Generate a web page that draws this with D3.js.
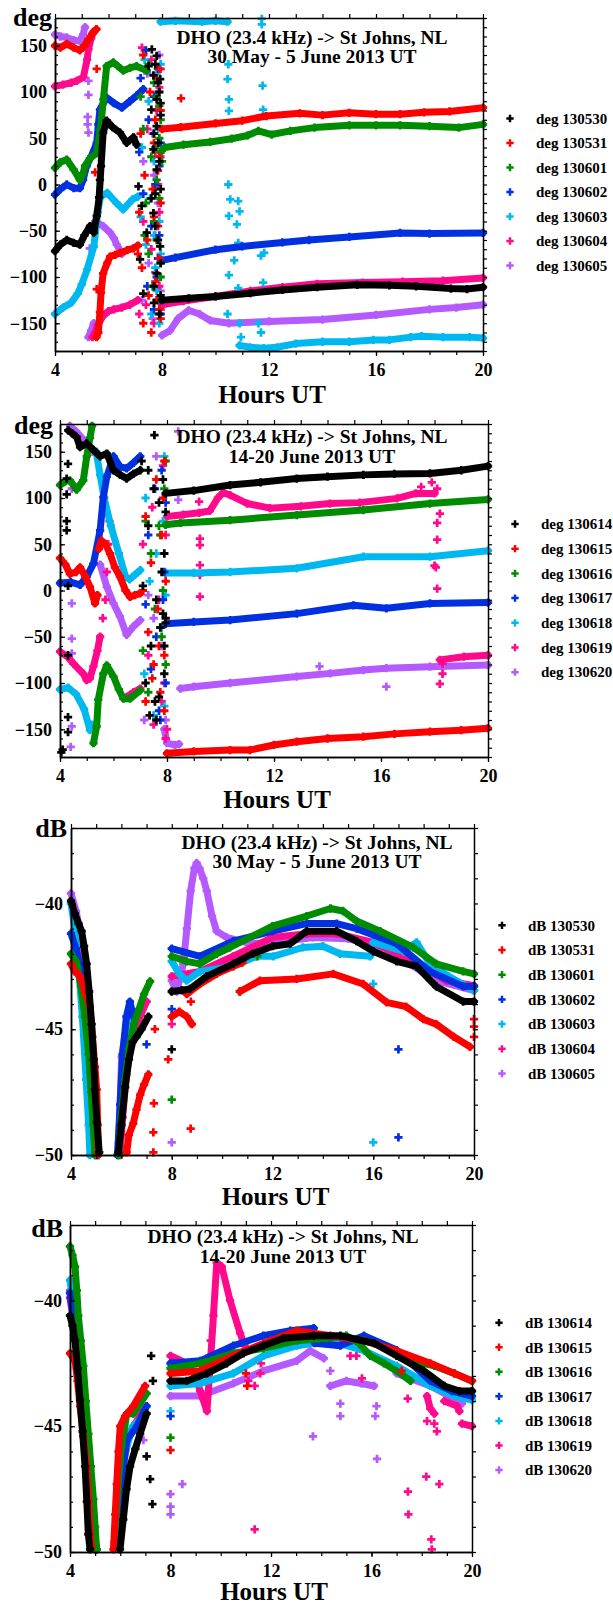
<!DOCTYPE html>
<html>
<head>
<meta charset="utf-8">
<script src="https://cdn.jsdelivr.net/npm/d3@7"></script>
<style>
  body { margin: 0; background: #fff; }
  svg { display: block; }
  text { font-family: "Liberation Serif", "Times New Roman", serif; font-weight: bold; }
</style>
</head>
<body>
<div id="chart"></div>
<script>
// ---- series colours, in legend order ----
const colors = ['#000000', '#ff0000', '#008c00', '#0030e0', '#00b8f0', '#ff0a8c', '#b45aff'];
const days1 = ['130530', '130531', '130601', '130602', '130603', '130604', '130605'];
const days2 = ['130614', '130615', '130616', '130617', '130618', '130619', '130620'];
const xTicks = [4, 8, 12, 16, 20];
const degTicks = [-150, -100, -50, 0, 50, 100, 150];
const dbTicks = [-50, -45, -40];

// ---- panel 1: phase (deg), 30 May - 5 June ----
// each series: lines = continuous runs [hour, value]; dots = isolated points
const p1_130530_lines = [
  [[4.0,-72],[4.2,-65],[4.44,-60],[4.7,-63],[4.93,-65],[5.1,-55],[5.31,-45],[5.45,-52],[5.56,-34],[5.65,-14],[5.72,20],[5.8,56],[5.93,69],[6.15,62],[6.43,56],[6.68,45],[6.93,51],[7.05,43]],
  [[8.0,-125],[9,-123],[10,-121],[11.3,-117.5],[12.5,-114],[13.8,-111],[15.3,-108.5],[16.5,-109],[17.5,-110],[18.8,-112.5],[19.4,-113],[20,-111]]
];
const p1_130530_dots = [[7.62,146],[7.8,139],[7.68,118],[7.93,114],[7.8,92],[7.6,81],[7.8,63],[7.86,45],[7.68,38],[7.8,16],[7.12,-2],[7.24,-23],[7.68,-31],[7.43,-52],[7.93,-67],[7.18,-81],[7.8,-96],[7.3,-118],[7.7,-128],[7.9,-140],[7.5,128],[7.95,75],[7.9,100],[7.75,-10],[5.68,5],
  [7.75,130],[7.85,110],[7.95,88],[7.7,55],[7.9,25],[7.95,-5],[7.75,-45],[7.85,-60],[7.95,-85],[7.7,-110],[7.95,-120],[7.6,-15]];
const p1_130531_lines = [
  [[4.0,150],[4.2,148],[4.44,152],[4.7,148],[4.93,145],[5.1,150],[5.25,157],[5.4,163],[5.55,168]],
  [[5.55,-165],[5.62,-160],[5.68,-138],[5.72,-117],[5.8,-96],[5.95,-85],[6.06,-78],[6.25,-76],[6.43,-74],[6.7,-71],[6.93,-69],[7.1,-66]],
  [[8.0,60],[8.7,62],[10,66],[11,69],[11.9,74],[13.15,77],[14,75],[15,77.5],[16,76],[16.9,76],[17.8,78],[18.75,79],[20,83]]
];
const p1_130531_dots = [[5.56,125],[5.5,13],[5.56,-113],[8.71,93],[7.3,140],[7.9,125],[7.55,100],[7.75,70],[7.2,55],[7.9,30],[7.35,10],[7.65,-5],[7.15,-30],[7.85,-45],[7.45,-60],[7.25,-90],[7.75,-105],[7.5,-120],[7.9,-135],[7.3,-150],[7.6,-160],[7.1,-75],
  [7.8,115],[7.95,80],[7.7,45],[7.85,15],[7.95,-20],[7.7,-35],[7.9,-80],[7.8,-125],[7.95,-145]];
const p1_130601_lines = [
  [[4.0,18],[4.2,24],[4.44,27],[4.7,16],[4.93,5],[5.05,12],[5.12,20],[5.3,28],[5.56,34],[5.7,60],[5.81,92],[5.93,128],[6.18,132],[6.35,128],[6.55,123],[6.8,126],[7.05,128],[7.43,123]],
  [[7.95,35],[8.1,40],[8.8,43],[9.8,46],[10.6,49.5],[11.2,53],[11.6,58],[12.1,54],[12.8,58],[13.7,61.5],[15,64],[16,64],[16.9,64],[18,63],[19.1,61.5],[20,65]]
];
const p1_130601_dots = [[7.5,130],[7.7,110],[7.9,85],[7.3,60],[7.6,30],[7.8,5],[7.4,-20],[7.7,-40],[7.5,-75],[7.95,-100],[7.85,-125],[7.2,95],[7.35,-55],[7.9,50],[8.0,25],
  [7.8,95],[7.95,70],[7.75,40],[7.9,-15],[7.8,-60],[7.95,-85],[7.65,-110]];
const p1_130602_lines = [
  [[4.0,-11],[4.2,-5],[4.44,0],[4.7,-4],[4.93,-4],[5.05,5],[5.18,20],[5.35,30],[5.56,45],[5.62,65],[5.68,81],[5.93,94],[6.2,88],[6.5,83],[6.8,90],[7.05,96],[7.3,103]],
  [[8.0,-82],[8.5,-79],[10,-70.5],[11,-67],[12.5,-62.6],[13.5,-60],[15,-56.7],[16.9,-52.4],[18,-53],[20,-52.4]]
];
const p1_130602_dots = [[7.4,145],[7.2,115],[7.7,95],[7.5,70],[7.9,20],[7.3,-10],[7.6,-45],[7.85,-80],[7.45,-110],[7.7,-135],[7.95,-125],[7.15,35],
  [7.85,125],[7.95,45],[7.75,0],[7.9,-55],[7.8,-100],[7.95,-140]];
const p1_130603_lines = [
  [[4.0,-140],[4.3,-133],[4.6,-128],[4.85,-118],[5.0,-108],[5.2,-92],[5.45,-67],[5.6,-30],[5.7,-13],[5.95,-9],[6.3,-20],[6.55,-27],[6.9,-16],[7.1,-13]],
  [[7.95,176],[8.5,177],[9.5,176],[10.0,177],[10.45,176]],
  [[10.9,-174],[11.3,-176],[11.8,-177],[12.3,-176],[13,-172],[14,-170],[15,-170],[15.9,-168],[16.5,-168],[17.3,-165],[17.7,-164],[18.5,-165],[19.5,-165],[20,-166]]
];
const p1_130603_dots = [[10.48,130],[10.45,114],[10.5,92],[10.5,79.5],[10.48,0],[10.55,-16],[10.85,-18],[10.9,-29],[10.5,-34],[10.8,-43],[10.85,-63],[10.5,-98],[10.7,-82],[10.85,-112],[11.73,179],[11.73,173],[11.76,107],[11.78,81],[11.82,-74],[11.7,-77],[11.78,-106],[10.45,-140],[10.9,-150],[11.6,-150],[11.7,-160],[10.95,-165],[7.35,135],[7.8,120],[7.5,90],[7.25,40],[7.7,25],[7.55,-15],[7.9,-40],[7.4,-65],[7.75,-90],[7.6,-140],[7.9,-150],[7.2,-35],
  [7.95,130],[7.85,60],[7.7,-55],[7.95,-75],[7.8,-115]];
const p1_130604_lines = [
  [[4.0,106],[4.3,108],[4.6,110],[4.81,112],[5.06,116],[5.2,135],[5.25,146],[5.35,158],[5.43,165]],
  [[5.4,-165],[5.5,-160],[5.6,-152],[5.8,-142],[6.0,-137],[6.2,-135],[6.5,-133],[6.8,-130],[7.1,-125]],
  [[8.0,-130],[8.8,-126],[10,-121],[11.3,-115],[12.5,-111],[13.8,-107.4],[15.5,-106],[17,-105],[18.5,-104],[20,-101]]
];
const p1_130604_dots = [[7.25,148],[7.6,135],[7.9,105],[7.45,60],[7.75,35],[7.3,-40],[7.6,-70],[7.9,-110],[7.4,-130],[7.7,-150],[7.15,-140],[7.85,0],
  [7.95,125],[7.8,80],[7.9,-30],[7.75,-95],[7.95,-135]];
const p1_130605_lines = [
  [[4.0,162],[4.2,160],[4.44,159],[4.7,156],[4.93,155],[5.05,162],[5.12,170]],
  [[5.25,-165],[5.35,-158],[5.45,-150]],
  [[5.5,-40],[5.8,-45],[6.06,-52],[6.2,-58],[6.31,-65],[6.5,-75]],
  [[8.0,-163],[8.3,-158],[8.6,-145],[9.0,-136],[9.4,-140],[9.8,-147],[10.5,-150],[12,-148],[14,-146],[16,-141],[18,-135],[19,-133],[20,-130]]
];
const p1_130605_dots = [[5.25,112],[5.25,97],[5.22,73],[5.22,65],[5.25,56],[5.3,-69],[7.45,120],[7.9,140],[7.65,55],[7.3,25],[7.85,-20],[7.5,-85],[7.95,-115],[7.65,-145],[7.25,-125],[7.7,10],
  [7.85,100],[7.95,30],[7.75,-55],[7.9,-100]];

// ---- panel 2: phase (deg), 14-20 June ----
const p2_130614_lines = [
  [[4.31,173],[4.45,170],[4.62,166],[4.75,155],[5.0,159],[5.25,152],[5.5,145],[5.75,148],[6.0,130],[6.25,125],[6.49,121],[6.74,126],[7.0,130]],
  [[7.95,105],[9,108],[10.36,114],[11.5,117],[12.85,121],[14,123],[15.34,125],[16.5,126],[17.83,126.6],[19,130],[20,134.5]]
];
const p2_130614_dots = [[4.3,137],[4.25,121],[4.25,104],[4.25,75],[4.25,65],[4.3,5],[4.3,-70],[4.3,-137],[4.3,-153],[4.05,-175],[4.1,-172],[7.53,168],[7.05,140],[7.3,130],[7.5,110],[7.7,95],[7.3,70],[7.9,40],[7.1,5],[7.6,-10],[7.85,-25],[7.95,-30],[7.4,-60],[7.2,-100],[7.55,-120],[7.35,-135],[7.6,-140],[7.9,-60],[7.8,20],
  [7.85,120],[7.95,85],[7.75,-40],[7.9,-90],[7.7,-115],[7.95,-35]];
const p2_130615_lines = [
  [[4.0,35],[4.2,28],[4.37,18],[4.6,20],[4.75,25],[4.95,15],[5.12,4],[5.31,-14],[5.4,-5]],
  [[5.45,45],[5.55,54],[5.7,50],[5.87,40],[6.05,25],[6.24,15],[6.45,0],[6.62,-7],[6.8,-5],[7.0,-3]],
  [[8.0,-176],[9,-174],[10.36,-172.5],[11.1,-172.5],[12.0,-167],[12.85,-163.5],[14,-160],[15.34,-158],[16.5,-155],[17.83,-152.6],[19,-151],[20,-149]]
];
const p2_130615_dots = [[7.9,140],[7.6,120],[7.2,80],[7.8,60],[7.4,30],[7.1,0],[7.65,-20],[7.3,-45],[7.9,-70],[7.5,-80],[7.2,-120],[7.75,-110],[7.45,-95],
  [7.85,100],[7.95,10],[7.7,-60],[7.9,-130]];
const p2_130616_lines = [
  [[4.0,114],[4.2,118],[4.37,119],[4.62,109],[4.87,119],[5.0,145],[5.12,165],[5.2,178]],
  [[5.25,-165],[5.37,-147],[5.43,-118],[5.62,-90],[5.75,-81],[6.0,-93],[6.2,-107],[6.37,-117],[6.62,-117],[7.0,-108]],
  [[7.95,71],[8.5,73],[10.36,76],[12.85,81.6],[15.34,87],[17.83,94],[20,98.5]]
];
const p2_130616_dots = [[7.95,140],[7.2,75],[7.7,70],[7.4,40],[7.85,0],[7.55,-20],[7.1,-65],[7.3,-110],[7.75,60],
  [7.9,110],[7.8,-50],[7.95,-80]];
const p2_130617_lines = [
  [[4.0,8],[4.4,9],[4.75,6],[5.0,15],[5.25,29],[5.5,65],[5.62,101],[5.75,123],[6.0,145],[6.24,134],[6.49,132],[6.75,138],[7.0,145]],
  [[7.95,-36],[9,-34],[10.36,-32],[12.85,-25],[14.97,-16],[16.2,-19.3],[17.83,-14],[20,-13]]
];
const p2_130617_dots = [[7.8,130],[7.55,110],[7.3,60],[7.9,20],[7.2,-15],[7.6,-50],[7.4,-85],[7.7,-130],[7.95,-100],
  [7.95,95],[7.85,-10],[7.75,-140]];
const p2_130618_lines = [
  [[4.0,-107],[4.3,-105],[4.6,-112],[4.9,-128],[5.12,-151],[5.2,-145]],
  [[5.35,150],[5.5,125],[5.65,100],[5.9,70],[6.2,40],[6.45,15],[6.6,12],[6.8,17],[7.0,22]],
  [[7.95,19],[9,19],[10.36,20],[12.85,24],[15.34,36.5],[17.83,36.5],[20,43]]
];
const p2_130618_dots = [[7.9,145],[7.2,100],[7.6,40],[7.35,10],[7.8,-40],[7.15,-90],[7.5,-135],[7.9,-125],
  [7.85,75],[7.95,-5]];
const p2_130619_lines = [
  [[4.0,-66],[4.3,-72],[4.5,-79],[4.87,-90],[5.0,-97],[5.12,-95],[5.25,-82],[5.4,-65],[5.5,-50]],
  [[6.5,-115],[6.75,-110],[7.0,-106]],
  [[8.0,80],[8.6,82],[9.2,84],[9.6,86],[9.9,100],[10.1,106],[10.36,103],[11.0,94],[11.85,89],[13,91],[14.09,94],[15.2,95],[16.6,99.6],[17.3,105],[18.0,105]],
  [[18.2,-75],[19.1,-71.6],[20,-70]]
];
const p2_130619_dots = [[5.6,-30],[5.7,-10],[5.75,20],[5.8,50],[5.85,75],[17.5,112],[17.9,117],[18.1,110],[18.2,83],[18.1,73],[18.1,55],[18.0,27],[18.05,25],[18.1,2],[18.3,-79],[18.3,-90],[18.2,-101],[9.2,96],[9.23,56],[9.23,49],[9.23,27.5],[9.23,16.7],[9.23,-6.7],[7.85,135],[7.45,90],[7.1,50],[7.7,-10],[7.3,-70],[7.9,-100],[7.5,-145],[7.95,-160],[8.0,-150],
  [7.95,60],[7.8,-120]];
const p2_130620_lines = [
  [[4.37,178],[4.6,172],[5.0,159],[5.2,150]],
  [[5.5,28],[5.75,4],[6.0,-14],[6.24,-28],[6.49,-48],[6.74,-39],[7.0,-32]],
  [[7.9,-150],[8.0,-165],[8.3,-167],[8.45,-166]],
  [[8.5,-106],[9,-104],[10.36,-100],[12.85,-93],[14.1,-89.6],[15.34,-86],[16.2,-84],[17.83,-82.4],[20,-80.6]]
];
const p2_130620_dots = [[4.44,110],[4.44,-14],[4.44,-52],[4.44,-68],[4.44,-147],[4.4,-169],[8.42,172],[8.42,98],[13.7,-82],[16.2,-104],[7.6,145],[7.3,-5],[7.8,-60],[7.15,-140],[7.5,-30],[7.95,-140]];

// ---- panel 3: amplitude (dB), 30 May - 5 June ----
const p3_130530_lines = [
  [[4.0,-39.9],[4.15,-40.4],[4.3,-40.8],[4.42,-41.1],[4.52,-41.7],[4.62,-42.4],[4.72,-43.5],[4.82,-44.8],[4.9,-46.2],[4.95,-47.4],[5.03,-48.7],[5.12,-49.9]],
  [[5.88,-49.9],[6.0,-48.8],[6.15,-47.3],[6.3,-46.2],[6.45,-45.5],[6.6,-45.3],[6.8,-45],[7.07,-44.5]],
  [[8.0,-43.5],[8.4,-43.45],[8.72,-43.4],[9.39,-42.9],[10.44,-42.4],[11.2,-42],[12,-41.7],[12.7,-41.6],[13.36,-41.1],[14.55,-41.1],[15.34,-41.5],[16,-41.9],[16.93,-42.3],[17.72,-42.5],[18.5,-43.3],[19.57,-43.9],[20,-43.9]]
];
const p3_130530_dots = [[8.0,-45.8]];
const p3_130531_lines = [
  [[4.0,-42.4],[4.15,-42.7],[4.36,-42.9],[4.55,-43.5],[4.75,-44.1],[4.85,-45.3],[4.95,-46.5],[5.02,-47.4],[5.06,-48.8],[5.08,-50]],
  [[6.21,-49.9],[6.3,-49.2],[6.47,-48.75],[6.6,-48.2],[6.75,-47.6],[6.9,-47.2],[7.07,-46.8]],
  [[8.0,-44.5],[8.3,-44.3],[8.6,-44.5],[8.8,-44.8]],
  [[8.6,-43.6],[9.12,-43.2],[9.78,-42.8],[10.44,-42.5],[10.8,-42.35]],
  [[10.71,-43.5],[11.5,-43.07],[12.96,-43.0],[14.41,-42.8],[15.6,-43.2],[16.53,-43.93],[17.3,-44.1],[17.99,-44.6],[18.5,-44.8],[19.2,-45.3],[19.84,-45.7]]
];
const p3_130531_dots = [[7.33,-45],[7.86,-46.2],[8.76,-43.9],[7.29,-47.95],[7.27,-49.1],[7.27,-49.9],[8.75,-48.95],[20,-44.9],[20,-45.3],[20,-44.6]];
const p3_130601_lines = [
  [[4.0,-42.0],[4.2,-42.3],[4.4,-43.3],[4.55,-44.5],[4.7,-46],[4.8,-47.5],[4.88,-48.8],[4.95,-50]],
  [[5.9,-50],[6.0,-48.5],[6.15,-47],[6.3,-45.8],[6.5,-44.8],[6.7,-44.2],[6.9,-43.6],[7.14,-43.1]],
  [[8.0,-42.1],[8.59,-42.3],[9.12,-42.4],[9.78,-42],[10.31,-41.75],[12,-40.9],[13.36,-40.5],[14.3,-40.2],[14.8,-40.3],[15.34,-40.7],[16.27,-41.1],[17.59,-41.75],[18.5,-42.4],[19.57,-42.7],[20,-42.8]]
];
const p3_130601_dots = [[8.0,-47.8],[10.7,-43.5],[11.4,-42.1]];
const p3_130602_lines = [
  [[4.0,-41.2],[4.2,-41.8],[4.4,-42.6],[4.55,-43.8],[4.7,-45.5],[4.82,-47.3],[4.9,-48.8],[4.97,-50]],
  [[5.85,-50],[5.95,-48],[6.05,-46],[6.2,-44.5],[6.34,-43.9],[6.47,-44.5]],
  [[8.0,-41.8],[9.12,-42.1],[10.44,-41.5],[12,-41.1],[13.36,-40.8],[14.55,-40.8],[15.34,-41.0],[16.93,-41.6],[18.25,-42.7],[19.57,-43.3],[20,-43.3]]
];
const p3_130602_dots = [[7.0,-45.6],[8.0,-44.2],[17,-45.8],[17,-49.3]];
const p3_130603_lines = [
  [[4.0,-40.0],[4.15,-41],[4.3,-42.5],[4.45,-44.5],[4.6,-47],[4.7,-48.8],[4.75,-50]],
  [[5.85,-50],[5.95,-48.5],[6.1,-46.5],[6.3,-45],[6.47,-44.6]],
  [[8.0,-42.3],[8.3,-42.8],[8.59,-43.07],[9.12,-42.7],[10.44,-42.5],[11.37,-42.1],[12.03,-42.1],[13.2,-41.75],[14.0,-41.7],[14.68,-42.0],[15.87,-42.1]],
  [[16,-41.55],[17.2,-41.9],[17.72,-41.55],[18.25,-42.4],[19,-42.9],[20,-43.46]]
];
const p3_130603_dots = [[16,-43.2],[16,-49.5]];
const p3_130604_lines = [
  [[4.0,-40.0],[4.2,-40.6],[4.4,-41.5],[4.6,-43],[4.75,-45],[4.88,-47.5],[5.0,-49.5],[5.05,-50]],
  [[5.95,-50],[6.05,-48.5],[6.2,-46.8],[6.4,-45.5],[6.7,-44.6],[7.0,-43.9]],
  [[8.0,-42.9],[9.12,-42.7],[10.44,-42.1],[12,-41.35],[13.36,-41.2],[14.55,-41.2],[16,-41.55],[17.6,-42.3],[18.9,-43.07],[20,-43.27]]
];
const p3_130604_dots = [[8.0,-44.8]];
const p3_130605_lines = [
  [[4.0,-39.6],[4.2,-40.3],[4.4,-41.3],[4.6,-42.8],[4.75,-44.8],[4.9,-47.3],[5.0,-49],[5.08,-50]],
  [[5.9,-49.5],[6.01,-46.1],[6.21,-44.8],[6.4,-44.3]],
  [[8.0,-43.07],[8.2,-43.5],[8.46,-42.4],[8.6,-41],[8.75,-39.5],[8.9,-38.6],[8.99,-38.4],[9.1,-38.6],[9.25,-39],[9.39,-39.5],[9.6,-40.5],[9.78,-41.1],[10.18,-41.35],[11.1,-41.6],[12.5,-41.5],[13.6,-41.35],[15,-41.4],[16.5,-41.8],[18.5,-43.07],[20,-43.46]]
];
const p3_130605_dots = [[8.0,-49.5]];

// ---- panel 4: amplitude (dB), 14-20 June ----
const p4_130614_lines = [
  [[4.0,-40.6],[4.1,-41],[4.2,-41.6],[4.3,-42.7],[4.4,-43.96],[4.5,-45.2],[4.6,-46.6],[4.67,-48],[4.73,-49.3],[4.8,-49.9]],
  [[5.99,-49.9],[6.12,-48.7],[6.25,-47.5],[6.39,-46.6],[6.6,-45.9],[6.79,-45.3],[7.05,-44.5]],
  [[8.0,-43.2],[8.65,-43.2],[9.45,-42.9],[10.24,-42.5],[10.9,-42.1],[11.7,-41.8],[12.5,-41.5],[13.7,-41.4],[14.76,-41.4],[16.1,-41.7],[17.0,-42.2],[18.08,-42.8],[18.9,-43.4],[19.5,-43.6],[20,-43.6]]
];
const p4_130614_dots = [[7.05,-46.2],[7.19,-47.1],[7.28,-48.1],[7.23,-42.2],[7.3,-43.2]];
const p4_130615_lines = [
  [[4.0,-42.1],[4.2,-42.4],[4.3,-43.2],[4.4,-44.2],[4.53,-45.4],[4.66,-46.6],[4.74,-48],[4.8,-49.3],[4.86,-49.8]],
  [[5.73,-49.9],[5.8,-48.5],[5.86,-47.3],[5.93,-46],[6.0,-45],[6.19,-44.6],[6.52,-44.2],[6.99,-43.4]],
  [[8.0,-42.9],[9.18,-42.8],[10.5,-42.2],[11.97,-41.6],[13.03,-41.2],[14.36,-41.4],[15.7,-41.6],[17.0,-42.0],[18.34,-42.5],[19.3,-42.9],[20,-43.2]]
];
const p4_130615_dots = [[8.0,-45.95],[11.05,-43.4],[11.0,-42.9],[17.2,-42.8]];
const p4_130616_lines = [
  [[4.0,-37.85],[4.1,-38.2],[4.2,-38.65],[4.27,-39.6],[4.33,-40.6],[4.43,-41.6],[4.53,-42.6],[4.63,-44],[4.73,-45.3],[4.83,-46.6],[4.93,-47.9],[5.0,-49],[5.06,-49.9]],
  [[5.78,-49.6],[5.9,-47.5],[6.05,-45.8],[6.26,-44.5],[6.52,-44.5],[7.05,-43.7]],
  [[8.0,-42.7],[9.2,-42.5],[10.5,-42.1],[11.7,-41.9],[13.03,-41.6],[14.2,-41.5],[15.0,-41.4],[15.5,-41.7],[15.95,-42.2],[16.5,-42.5],[17.0,-42.8],[17.55,-43.2]],
  [[17.6,-42.4],[18.5,-42.6],[19.3,-42.9],[20,-43.2]]
];
const p4_130616_dots = [[8.0,-45.45]];
const p4_130617_lines = [
  [[4.0,-39.7],[4.15,-40.8],[4.3,-42.3],[4.45,-44],[4.6,-45.8],[4.75,-47.6],[4.9,-48.9],[5.06,-49.9]],
  [[5.85,-49.8],[5.95,-48.5],[6.1,-46.8],[6.26,-45.55],[6.66,-45.0],[7.05,-44.2]],
  [[8.0,-42.5],[9.18,-42.4],[10.5,-41.8],[11.7,-41.4],[12.77,-41.2],[13.7,-41.1]],
  [[13.75,-41.7],[14.76,-41.8],[15.2,-41.6],[15.7,-41.4],[17.0,-41.97],[18.34,-43.2],[19.2,-43.6],[20,-43.8]]
];
const p4_130617_dots = [[8.0,-44.6]];
const p4_130618_lines = [
  [[4.0,-39.2],[4.15,-40.3],[4.3,-41.8],[4.45,-43.6],[4.6,-45.6],[4.75,-47.6],[4.9,-49],[5.02,-49.9]],
  [[5.85,-49.7],[6.0,-47.8],[6.2,-46],[6.5,-45],[6.92,-44.6]],
  [[8.0,-43.4],[9.18,-43.3],[10.5,-42.9],[11.7,-42.2],[13.03,-41.8],[14.36,-41.6],[15.7,-42.0],[17.0,-42.6],[18.34,-43.4],[19.3,-43.8],[20,-43.96]]
];
const p4_130618_dots = [[8.0,-44.4]];
const p4_130619_lines = [
  [[4.0,-39.9],[4.15,-40.9],[4.3,-42.3],[4.45,-44],[4.6,-45.9],[4.75,-47.8],[4.9,-49.2],[5.0,-49.9]],
  [[5.9,-49.8],[6.0,-48],[6.15,-46.3],[6.4,-45.2],[6.9,-44.4]],
  [[8.0,-42.2],[8.65,-42.5],[9.0,-43],[9.18,-43.6],[9.45,-44.4],[9.58,-42.6],[9.71,-40.6],[9.84,-38.5],[10.04,-38.65],[10.37,-40.0],[10.77,-41.3],[10.95,-41.8]],
  [[18.21,-43.8],[18.34,-44.3],[18.5,-44.5]],
  [[18.9,-44.0],[19.4,-44.2],[19.5,-44.4]],
  [[19.6,-44.9],[20,-45.0]]
];
const p4_130619_dots = [[11.1,-43.2],[11.35,-43.4],[11.57,-42.9],[11.6,-42.5],[11.35,-49.1],[15.16,-42.2],[15.4,-42.2],[15.62,-43.1],[17.44,-43.9],[17.45,-47.6],[17.47,-48.5],[18.18,-47.0],[18.7,-47.3],[18.38,-49.5],[18.4,-49.9],[18.21,-44.8],[18.5,-44.9],[18.6,-45.2],[9.6,-41.6],[9.55,-42.2]];
const p4_130620_lines = [
  [[4.0,-39.6],[4.15,-40.8],[4.3,-42.2],[4.45,-43.9],[4.6,-45.7],[4.75,-47.4],[4.9,-48.8],[5.06,-49.9]],
  [[8.0,-43.8],[9.18,-43.8],[10.5,-43.3],[11.7,-42.8],[13.03,-42.4],[13.56,-42.0],[14.1,-42.3]],
  [[14.36,-43.4],[15.0,-43.2],[15.6,-43.3],[16.1,-43.4]],
  [[17.0,-42.9],[18.34,-43.4],[19.4,-43.96],[19.6,-44.1]]
];
const p4_130620_dots = [[14.76,-44.1],[14.76,-44.6],[16.2,-44.2],[16.15,-44.6],[13.67,-45.4],[16.22,-46.3],[14.36,-42.8],[8.0,-47.7],[8.0,-48.2],[8.0,-48.5],[8.47,-47.3],[6.92,-45.55]];

// ---- layout of the four panels ----
const panels = [
  { left: 55, right: 483, top: 18, bottom: 351, ydom: [-180, 180], yticks: degTicks, minor: 10,
    unit: 'deg', unitX: 52, unitY: 26, titleX: 312, titleY: [44, 63], date: '30 May - 5 June 2013 UT',
    legX: 510, legY: 118.5, legStep: 24.5, hoursY: 403, days: days1,
    lines: [p1_130530_lines, p1_130531_lines, p1_130601_lines, p1_130602_lines, p1_130603_lines, p1_130604_lines, p1_130605_lines],
    dots: [p1_130530_dots, p1_130531_dots, p1_130601_dots, p1_130602_dots, p1_130603_dots, p1_130604_dots, p1_130605_dots] },
  { left: 60, right: 488, top: 424, bottom: 757, ydom: [-180, 180], yticks: degTicks, minor: 10,
    unit: 'deg', unitX: 53, unitY: 434, titleX: 312, titleY: [443, 463], date: '14-20 June 2013 UT',
    legX: 515, legY: 524, legStep: 24.7, hoursY: 808, days: days2,
    lines: [p2_130614_lines, p2_130615_lines, p2_130616_lines, p2_130617_lines, p2_130618_lines, p2_130619_lines, p2_130620_lines],
    dots: [p2_130614_dots, p2_130615_dots, p2_130616_dots, p2_130617_dots, p2_130618_dots, p2_130619_dots, p2_130620_dots] },
  { left: 71, right: 474, top: 828, bottom: 1155, ydom: [-50, -37], yticks: dbTicks, minor: 1,
    unit: 'dB', unitX: 67, unitY: 837, titleX: 317, titleY: [849, 868], date: '30 May - 5 June 2013 UT',
    legX: 502, legY: 925.3, legStep: 24.7, hoursY: 1205, days: days1,
    lines: [p3_130530_lines, p3_130531_lines, p3_130601_lines, p3_130602_lines, p3_130603_lines, p3_130604_lines, p3_130605_lines],
    dots: [p3_130530_dots, p3_130531_dots, p3_130601_dots, p3_130602_dots, p3_130603_dots, p3_130604_dots, p3_130605_dots] },
  { left: 70, right: 472, top: 1225, bottom: 1552, ydom: [-50, -37], yticks: dbTicks, minor: 1,
    unit: 'dB', unitX: 63, unitY: 1237, titleX: 283, titleY: [1243, 1263], date: '14-20 June 2013 UT',
    legX: 499, legY: 1322.7, legStep: 24.55, hoursY: 1600, days: days2,
    lines: [p4_130614_lines, p4_130615_lines, p4_130616_lines, p4_130617_lines, p4_130618_lines, p4_130619_lines, p4_130620_lines],
    dots: [p4_130614_dots, p4_130615_dots, p4_130616_dots, p4_130617_dots, p4_130618_dots, p4_130619_dots, p4_130620_dots] }
];

const W = 613, H = 1606;
const svg = d3.select('#chart').append('svg').attr('width', W).attr('height', H);
const cross = d3.symbol().type(d3.symbolCross).size(38);
const legCross = d3.symbol().type(d3.symbolCross).size(30);

panels.forEach(drawPanel);

function drawPanel(p) {
  const g = svg.append('g');
  const x = d3.scaleLinear().domain([4, 20]).range([p.left, p.right]);
  const y = d3.scaleLinear().domain(p.ydom).range([p.bottom, p.top]);
  const line = d3.line().x(d => x(d[0])).y(d => y(d[1]));

  // data: purple first so black lands on top
  for (let i = 6; i >= 0; i--) {
    const sg = g.append('g').attr('fill', colors[i]).attr('stroke', colors[i]);
    sg.selectAll('path.run').data(p.lines[i]).enter().append('path')
      .attr('class', 'run')
      .attr('d', line)
      .attr('fill', 'none')
      .attr('stroke-width', 7)
      .attr('stroke-linejoin', 'round')
      .attr('stroke-linecap', 'round');
    const pts = p.lines[i].flat().concat(p.dots[i]);
    sg.selectAll('path.pt').data(pts).enter().append('path')
      .attr('class', 'pt')
      .attr('stroke', 'none')
      .attr('d', cross)
      .attr('transform', d => 'translate(' + x(d[0]) + ',' + y(d[1]) + ')');
  }

  // axes
  const styleAxis = (sel) => {
    sel.attr('font-family', null).attr('font-size', null);
    sel.select('.domain').attr('stroke-width', 1.5);
    sel.selectAll('.tick line').attr('stroke-width', 1.2);
    sel.selectAll('text').attr('font-size', 18).attr('fill', '#000');
  };
  const xMinor = d3.range(4, 21, 1);
  const yMinor = d3.range(p.ydom[0], p.ydom[1] + 0.001, p.minor);

  g.append('g').attr('transform', 'translate(0,' + p.bottom + ')')
    .call(d3.axisBottom(x).tickValues(xMinor).tickSize(4).tickFormat('').tickSizeOuter(0)).call(styleAxis);
  g.append('g').attr('transform', 'translate(0,' + p.bottom + ')')
    .call(d3.axisBottom(x).tickValues(xTicks).tickSize(5).tickPadding(7).tickFormat(d3.format('d')).tickSizeOuter(0)).call(styleAxis);
  g.append('g').attr('transform', 'translate(0,' + p.top + ')')
    .call(d3.axisTop(x).tickValues(xMinor).tickSize(4).tickFormat('').tickSizeOuter(0)).call(styleAxis);
  g.append('g').attr('transform', 'translate(' + p.left + ',0)')
    .call(d3.axisLeft(y).tickValues(yMinor).tickSize(-3).tickFormat('').tickSizeOuter(0)).call(styleAxis);
  g.append('g').attr('transform', 'translate(' + p.left + ',0)')
    .call(d3.axisLeft(y).tickValues(p.yticks).tickSize(-5).tickPadding(8).tickFormat(d3.format('d')).tickSizeOuter(0)).call(styleAxis);
  g.append('g').attr('transform', 'translate(' + p.right + ',0)')
    .call(d3.axisRight(y).tickValues(yMinor).tickSize(4).tickFormat('').tickSizeOuter(0)).call(styleAxis);

  // unit label top-left
  g.append('text').attr('x', p.unitX).attr('y', p.unitY)
    .attr('text-anchor', 'end').attr('font-size', 26).text(p.unit);

  // title
  const t = g.append('text').attr('text-anchor', 'middle').attr('font-size', 19.5);
  t.append('tspan').attr('x', p.titleX).attr('y', p.titleY[0]).text('DHO (23.4 kHz) -> St Johns, NL');
  t.append('tspan').attr('x', p.titleX).attr('y', p.titleY[1]).text(p.date);

  // x axis title
  g.append('text').attr('x', (p.left + p.right) / 2 + 3).attr('y', p.hoursY)
    .attr('text-anchor', 'middle').attr('font-size', 25).text('Hours UT');

  // legend
  const leg = g.append('g');
  p.days.forEach((d, i) => {
    const ly = p.legY + i * p.legStep;
    leg.append('path').attr('d', legCross).attr('fill', colors[i])
      .attr('transform', 'translate(' + p.legX + ',' + ly + ')');
    leg.append('text').attr('x', p.legX + 26).attr('y', ly).attr('dy', '0.35em')
      .attr('font-size', 15).text(p.unit + ' ' + d);
  });
}
</script>
</body>
</html>
